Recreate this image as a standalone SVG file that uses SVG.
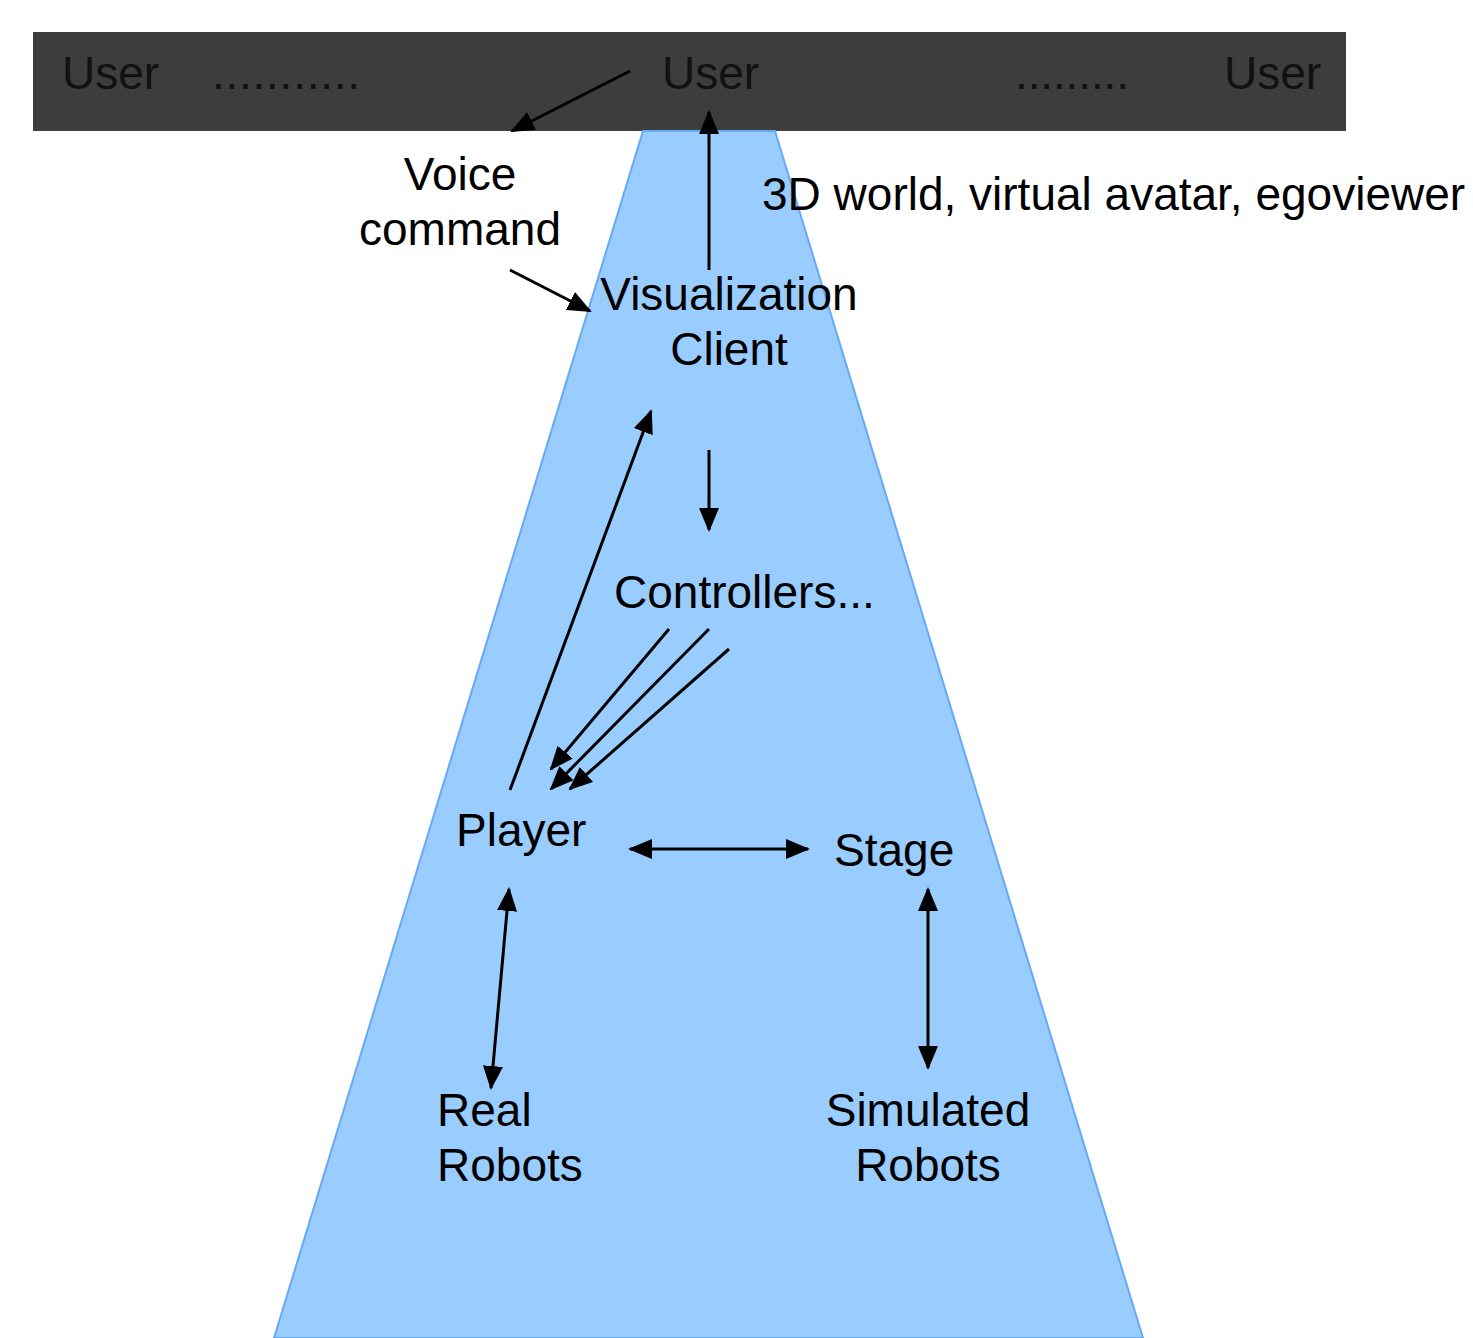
<svg xmlns="http://www.w3.org/2000/svg" width="1473" height="1338" viewBox="0 0 1473 1338">
<style>
text{font-family:"Liberation Sans",Arial,sans-serif;font-size:46px;fill:#000}
.u{fill:#111}
.c{stroke:#000;stroke-width:3;fill:none}
</style>
<defs>
<marker id="ah" markerUnits="userSpaceOnUse" markerWidth="24" markerHeight="20" refX="22" refY="10" orient="auto-start-reverse" viewBox="0 0 24 20">
<path d="M0,0 L24,10 L0,20 Z" fill="#000"/>
</marker>
</defs>
<rect x="0" y="0" width="1473" height="1338" fill="#fff"/>
<g id="users">
<rect x="33" y="32" width="1313" height="99" fill="#3d3d3d"/>
<text class="u" x="62" y="89">User</text>
<text class="u" x="212" y="89" textLength="148" lengthAdjust="spacing">...........</text>
<text class="u" x="662" y="89">User</text>
<text class="u" x="1015" y="89" textLength="114" lengthAdjust="spacing">.........</text>
<text class="u" x="1224" y="89">User</text>
</g>
<g id="cone">
<polygon points="643,131 775,131 1143,1338 274,1338" fill="#99ccff" stroke="#66aaf5" stroke-width="2"/>
</g>
<g id="voice"><text x="460" y="190" text-anchor="middle">Voice</text><text x="460" y="245" text-anchor="middle">command</text></g>
<g id="world"><text x="762" y="210">3D world, virtual avatar, egoviewer</text></g>
<g id="vis"><text x="729" y="310" text-anchor="middle">Visualization</text><text x="729" y="365" text-anchor="middle">Client</text></g>
<g id="ctrl"><text x="614" y="608">Controllers...</text></g>
<g id="player"><text x="456" y="846">Player</text></g>
<g id="stage"><text x="834" y="866">Stage</text></g>
<g id="real"><text x="437" y="1126">Real</text><text x="437" y="1181">Robots</text></g>
<g id="sim"><text x="928" y="1126" text-anchor="middle">Simulated</text><text x="928" y="1181" text-anchor="middle">Robots</text></g>
<g id="connectors">
<line class="c" x1="630" y1="71" x2="512" y2="131" marker-end="url(#ah)"/>
<line class="c" x1="709" y1="270" x2="709" y2="112" marker-end="url(#ah)"/>
<line class="c" x1="510" y1="270" x2="590" y2="311" marker-end="url(#ah)"/>
<line class="c" x1="510" y1="790" x2="651" y2="411" marker-end="url(#ah)"/>
<line class="c" x1="709" y1="450" x2="709" y2="530" marker-end="url(#ah)"/>
<line class="c" x1="669" y1="629" x2="551" y2="769" marker-end="url(#ah)"/>
<line class="c" x1="709" y1="629" x2="551" y2="789" marker-end="url(#ah)"/>
<line class="c" x1="729" y1="649" x2="570" y2="789" marker-end="url(#ah)"/>
<line class="c" x1="630" y1="849" x2="808" y2="849" marker-start="url(#ah)" marker-end="url(#ah)"/>
<line class="c" x1="509" y1="889" x2="491" y2="1088" marker-start="url(#ah)" marker-end="url(#ah)"/>
<line class="c" x1="928" y1="889" x2="928" y2="1068" marker-start="url(#ah)" marker-end="url(#ah)"/>
</g>
</svg>
